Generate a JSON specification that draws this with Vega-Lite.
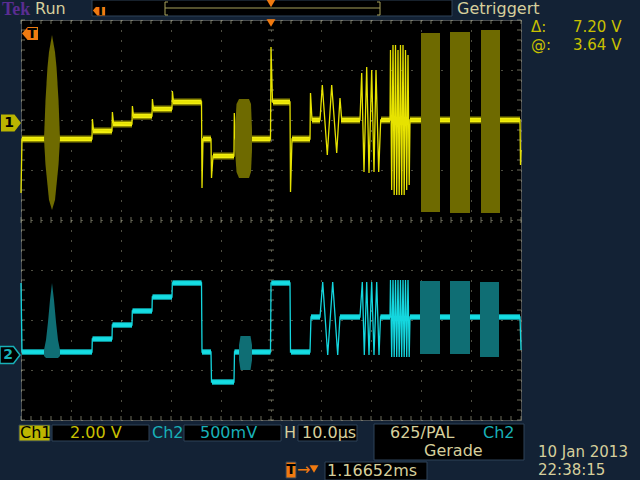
{
  "$schema": "https://vega.github.io/schema/vega-lite/v6.json",
  "width": 500,
  "height": 400,
  "autosize": "none",
  "padding": {"left": 21, "top": 20, "right": 119, "bottom": 60},
  "background": "#132235",
  "config": {
    "view": {"stroke": "#8f8f8a", "strokeDash": [1, 1], "fill": "#000000"},
    "axis": {"labels": false, "ticks": false, "domain": false, "titleOpacity": 0, "grid": true, "gridColor": "#9a9a82", "gridDash": [1, 9], "gridOpacity": 1, "gridWidth": 1},
    "axisX": {"tickCount": 10},
    "axisY": {"tickCount": 8}
  },
  "resolve": {"scale": {"color": "independent"}},
  "datasets": {
    "boxes": [
      {"t": 14.2, "t2": 86.2, "v": 4.4, "v2": 4.08, "k": "panel"},
      {"t": -0.4, "t2": 5.8, "v": -4.1, "v2": -4.42, "k": "ch1"},
      {"t": 6.2, "t2": 25.6, "v": -4.1, "v2": -4.42, "k": "panel"},
      {"t": 32.6, "t2": 52.0, "v": -4.1, "v2": -4.42, "k": "panel"},
      {"t": 55.4, "t2": 67.2, "v": -4.1, "v2": -4.42, "k": "panel"},
      {"t": 70.6, "t2": 100.6, "v": -4.08, "v2": -4.8, "k": "panel"},
      {"t": 60.8, "t2": 81.2, "v": -4.84, "v2": -5.2, "k": "panel"},
      {"t": 53.0, "t2": 55.0, "v": -4.84, "v2": -5.16, "k": "icon"}
    ],
    "bracket": [
      {"t": 28.8, "t2": 71.8, "v": 4.24, "v2": 4.24},
      {"t": 28.8, "t2": 28.8, "v": 4.36, "v2": 4.1},
      {"t": 71.8, "t2": 71.8, "v": 4.36, "v2": 4.1},
      {"t": 28.8, "t2": 29.4, "v": 4.36, "v2": 4.36},
      {"t": 28.8, "t2": 29.4, "v": 4.1, "v2": 4.1},
      {"t": 71.2, "t2": 71.8, "v": 4.36, "v2": 4.36},
      {"t": 71.2, "t2": 71.8, "v": 4.1, "v2": 4.1}
    ],
    "xt": [
      {"t": 0}, {"t": 2}, {"t": 4}, {"t": 6}, {"t": 8}, {"t": 10}, {"t": 12}, {"t": 14}, {"t": 16}, {"t": 18},
      {"t": 20}, {"t": 22}, {"t": 24}, {"t": 26}, {"t": 28}, {"t": 30}, {"t": 32}, {"t": 34}, {"t": 36}, {"t": 38},
      {"t": 40}, {"t": 42}, {"t": 44}, {"t": 46}, {"t": 48}, {"t": 50}, {"t": 52}, {"t": 54}, {"t": 56}, {"t": 58},
      {"t": 60}, {"t": 62}, {"t": 64}, {"t": 66}, {"t": 68}, {"t": 70}, {"t": 72}, {"t": 74}, {"t": 76}, {"t": 78},
      {"t": 80}, {"t": 82}, {"t": 84}, {"t": 86}, {"t": 88}, {"t": 90}, {"t": 92}, {"t": 94}, {"t": 96}, {"t": 98}, {"t": 100}
    ],
    "yt": [
      {"v": -4}, {"v": -3.8}, {"v": -3.6}, {"v": -3.4}, {"v": -3.2}, {"v": -3}, {"v": -2.8}, {"v": -2.6}, {"v": -2.4}, {"v": -2.2},
      {"v": -2}, {"v": -1.8}, {"v": -1.6}, {"v": -1.4}, {"v": -1.2}, {"v": -1}, {"v": -0.8}, {"v": -0.6}, {"v": -0.4}, {"v": -0.2},
      {"v": 0}, {"v": 0.2}, {"v": 0.4}, {"v": 0.6}, {"v": 0.8}, {"v": 1}, {"v": 1.2}, {"v": 1.4}, {"v": 1.6}, {"v": 1.8},
      {"v": 2}, {"v": 2.2}, {"v": 2.4}, {"v": 2.6}, {"v": 2.8}, {"v": 3}, {"v": 3.2}, {"v": 3.4}, {"v": 3.6}, {"v": 3.8}, {"v": 4}
    ],
    "ch1burst": [
      {"b": "a", "t": 4.6, "top": 1.62, "bot": 1.62},
      {"b": "a", "t": 4.9, "top": 2.4, "bot": 1.1},
      {"b": "a", "t": 5.3, "top": 3.06, "bot": 0.7},
      {"b": "a", "t": 5.6, "top": 3.36, "bot": 0.4},
      {"b": "a", "t": 6.2, "top": 3.7, "bot": 0.2},
      {"b": "a", "t": 6.8, "top": 3.36, "bot": 0.4},
      {"b": "a", "t": 7.1, "top": 3.06, "bot": 0.7},
      {"b": "a", "t": 7.5, "top": 2.4, "bot": 1.1},
      {"b": "a", "t": 7.8, "top": 1.62, "bot": 1.62},
      {"b": "b", "t": 42.8, "top": 1.8, "bot": 1.4},
      {"b": "b", "t": 43.1, "top": 2.32, "bot": 0.96},
      {"b": "b", "t": 43.6, "top": 2.42, "bot": 0.84},
      {"b": "b", "t": 45.6, "top": 2.42, "bot": 0.84},
      {"b": "b", "t": 46.0, "top": 2.32, "bot": 0.96},
      {"b": "b", "t": 46.2, "top": 1.8, "bot": 1.4}
    ],
    "ch2burst": [
      {"b": "a", "t": 4.6, "top": -2.6, "bot": -2.72},
      {"b": "a", "t": 5.0, "top": -2.4, "bot": -2.76},
      {"b": "a", "t": 5.4, "top": -2.04, "bot": -2.76},
      {"b": "a", "t": 5.8, "top": -1.6, "bot": -2.76},
      {"b": "a", "t": 6.2, "top": -1.26, "bot": -2.76},
      {"b": "a", "t": 6.6, "top": -1.6, "bot": -2.76},
      {"b": "a", "t": 7.0, "top": -2.04, "bot": -2.76},
      {"b": "a", "t": 7.4, "top": -2.4, "bot": -2.76},
      {"b": "a", "t": 7.8, "top": -2.6, "bot": -2.72},
      {"b": "b", "t": 43.6, "top": -2.5, "bot": -2.8},
      {"b": "b", "t": 43.9, "top": -2.32, "bot": -3.0},
      {"b": "b", "t": 45.9, "top": -2.32, "bot": -3.0},
      {"b": "b", "t": 46.2, "top": -2.5, "bot": -2.8}
    ],
    "ch1block": [
      {"t": 80.0, "t2": 83.8, "v": 3.74, "v2": 0.16},
      {"t": 85.8, "t2": 89.8, "v": 3.76, "v2": 0.14},
      {"t": 92.0, "t2": 95.8, "v": 3.8, "v2": 0.14}
    ],
    "ch2block": [
      {"t": 79.8, "t2": 83.8, "v": -1.22, "v2": -2.68},
      {"t": 85.8, "t2": 89.8, "v": -1.22, "v2": -2.68},
      {"t": 91.8, "t2": 95.6, "v": -1.24, "v2": -2.74}
    ],
    "ch1band": [
      {"t": 0.2, "t2": 14.2, "v": 1.62},
      {"t": 14.4, "t2": 18.2, "v": 1.78},
      {"t": 18.4, "t2": 22.2, "v": 1.92},
      {"t": 22.4, "t2": 26.2, "v": 2.08},
      {"t": 26.4, "t2": 30.2, "v": 2.22},
      {"t": 30.4, "t2": 36.1, "v": 2.36},
      {"t": 36.4, "t2": 38.0, "v": 1.62},
      {"t": 38.4, "t2": 42.6, "v": 1.28},
      {"t": 42.8, "t2": 49.9, "v": 1.62},
      {"t": 50.4, "t2": 53.8, "v": 2.36},
      {"t": 54.2, "t2": 57.8, "v": 1.62},
      {"t": 58.2, "t2": 59.8, "v": 2.0},
      {"t": 64.0, "t2": 67.8, "v": 2.0},
      {"t": 72.0, "t2": 73.8, "v": 2.0},
      {"t": 77.8, "t2": 99.8, "v": 2.0}
    ],
    "ch2band": [
      {"t": 0.2, "t2": 14.2, "v": -2.64},
      {"t": 14.3, "t2": 18.2, "v": -2.38},
      {"t": 18.3, "t2": 22.2, "v": -2.1},
      {"t": 22.3, "t2": 26.2, "v": -1.82},
      {"t": 26.3, "t2": 30.2, "v": -1.54},
      {"t": 30.3, "t2": 36.1, "v": -1.26},
      {"t": 36.2, "t2": 38.0, "v": -2.64},
      {"t": 38.2, "t2": 42.6, "v": -3.24},
      {"t": 42.7, "t2": 49.9, "v": -2.64},
      {"t": 50.1, "t2": 53.8, "v": -1.26},
      {"t": 54.0, "t2": 57.8, "v": -2.64},
      {"t": 58.0, "t2": 59.8, "v": -1.94},
      {"t": 63.8, "t2": 67.8, "v": -1.94},
      {"t": 71.9, "t2": 73.8, "v": -1.94},
      {"t": 77.8, "t2": 99.8, "v": -1.94}
    ],
    "ch1line": [
      {"t": 0, "v": 0.54}, {"t": 0.2, "v": 1.62}, {"t": 14.2, "v": 1.62}, {"t": 14.28, "v": 2.02}, {"t": 14.5, "v": 1.8},
      {"t": 18.2, "v": 1.78}, {"t": 18.28, "v": 2.16}, {"t": 18.5, "v": 1.94}, {"t": 22.2, "v": 1.92}, {"t": 22.28, "v": 2.28},
      {"t": 22.5, "v": 2.08}, {"t": 26.2, "v": 2.08}, {"t": 26.28, "v": 2.42}, {"t": 26.5, "v": 2.22}, {"t": 30.2, "v": 2.22},
      {"t": 30.28, "v": 2.58}, {"t": 30.5, "v": 2.36}, {"t": 36.1, "v": 2.36}, {"t": 36.2, "v": 0.64}, {"t": 36.4, "v": 1.62},
      {"t": 38.0, "v": 1.62}, {"t": 38.1, "v": 0.84}, {"t": 38.4, "v": 1.28}, {"t": 42.6, "v": 1.28}, {"t": 42.66, "v": 2.14},
      {"t": 42.9, "v": 1.62}, {"t": 49.9, "v": 1.62}, {"t": 50.0, "v": 3.46}, {"t": 50.3, "v": 2.36}, {"t": 53.8, "v": 2.36},
      {"t": 53.9, "v": 0.56}, {"t": 54.2, "v": 1.62}, {"t": 57.8, "v": 1.62}, {"t": 57.9, "v": 2.54}, {"t": 58.2, "v": 2.0},
      {"t": 59.8, "v": 2.0}, {"t": 60.26, "v": 2.7}, {"t": 61.26, "v": 1.3}, {"t": 62.14, "v": 2.7}, {"t": 63.14, "v": 1.34},
      {"t": 63.8, "v": 2.44}, {"t": 64.14, "v": 2.0}, {"t": 67.8, "v": 2.0}, {"t": 68.14, "v": 2.94}, {"t": 68.6, "v": 0.96},
      {"t": 69.14, "v": 3.06}, {"t": 69.6, "v": 0.94}, {"t": 70.14, "v": 3.0}, {"t": 70.6, "v": 0.96}, {"t": 71.0, "v": 3.0},
      {"t": 71.54, "v": 0.96}, {"t": 71.94, "v": 2.0}, {"t": 73.8, "v": 2.0}, {"t": 73.9, "v": 3.4}, {"t": 74.14, "v": 0.6},
      {"t": 74.4, "v": 3.5}, {"t": 74.64, "v": 0.5}, {"t": 74.9, "v": 3.5}, {"t": 75.14, "v": 0.5}, {"t": 75.4, "v": 3.4},
      {"t": 75.64, "v": 0.5}, {"t": 75.9, "v": 3.5}, {"t": 76.14, "v": 0.5}, {"t": 76.4, "v": 3.5}, {"t": 76.64, "v": 0.5},
      {"t": 76.9, "v": 3.4}, {"t": 77.14, "v": 0.6}, {"t": 77.4, "v": 3.3}, {"t": 77.64, "v": 0.7}, {"t": 77.8, "v": 2.0},
      {"t": 99.8, "v": 2.0}, {"t": 99.9, "v": 1.1}, {"t": 100, "v": 1.4}
    ],
    "ch2line": [
      {"t": 0, "v": -1.26}, {"t": 0.2, "v": -2.64}, {"t": 14.2, "v": -2.64}, {"t": 14.26, "v": -2.38}, {"t": 18.2, "v": -2.38},
      {"t": 18.26, "v": -2.1}, {"t": 22.2, "v": -2.1}, {"t": 22.26, "v": -1.82}, {"t": 26.2, "v": -1.82}, {"t": 26.26, "v": -1.54},
      {"t": 30.2, "v": -1.54}, {"t": 30.26, "v": -1.26}, {"t": 36.1, "v": -1.26}, {"t": 36.2, "v": -2.64}, {"t": 38.0, "v": -2.64},
      {"t": 38.1, "v": -3.24}, {"t": 42.6, "v": -3.24}, {"t": 42.7, "v": -2.64}, {"t": 49.9, "v": -2.64}, {"t": 50.0, "v": -1.26},
      {"t": 53.8, "v": -1.26}, {"t": 53.9, "v": -2.64}, {"t": 57.8, "v": -2.64}, {"t": 58.0, "v": -1.94}, {"t": 59.8, "v": -1.94},
      {"t": 60.34, "v": -1.24}, {"t": 61.34, "v": -2.7}, {"t": 62.34, "v": -1.24}, {"t": 63.34, "v": -2.7}, {"t": 63.8, "v": -1.94},
      {"t": 67.8, "v": -1.94}, {"t": 68.26, "v": -1.24}, {"t": 68.66, "v": -2.7}, {"t": 69.14, "v": -1.24}, {"t": 69.6, "v": -2.7},
      {"t": 70.14, "v": -1.24}, {"t": 70.6, "v": -2.7}, {"t": 71.14, "v": -1.24}, {"t": 71.6, "v": -2.7}, {"t": 71.9, "v": -1.94},
      {"t": 73.8, "v": -1.94}, {"t": 73.9, "v": -1.2}, {"t": 74.14, "v": -2.74}, {"t": 74.4, "v": -1.2}, {"t": 74.64, "v": -2.74},
      {"t": 74.9, "v": -1.2}, {"t": 75.14, "v": -2.74}, {"t": 75.4, "v": -1.2}, {"t": 75.64, "v": -2.74}, {"t": 75.9, "v": -1.2},
      {"t": 76.14, "v": -2.74}, {"t": 76.4, "v": -1.2}, {"t": 76.64, "v": -2.74}, {"t": 76.9, "v": -1.2}, {"t": 77.14, "v": -2.74},
      {"t": 77.4, "v": -1.2}, {"t": 77.64, "v": -2.74}, {"t": 77.8, "v": -1.94}, {"t": 99.8, "v": -1.94}, {"t": 100, "v": -2.6}
    ],
    "markers": [
      {"t": -2.0, "v": 1.94, "m": "ch1"},
      {"t": -2.2, "v": -2.7, "m": "ch2"},
      {"t": 1.8, "v": 3.73, "m": "trig"},
      {"t": 15.6, "v": 4.19, "m": "trigsmall"},
      {"t": 50, "v": 3.94, "m": "tri"},
      {"t": 50, "v": 4.33, "m": "tri"},
      {"t": 58.6, "v": -4.98, "m": "tri"}
    ],
    "labels": [
      {"t": 2.8, "v": 4.22, "s": "Run", "r": "ui"},
      {"t": 87.2, "v": 4.22, "s": "Getriggert", "r": "ui"},
      {"t": -0.2, "v": -4.26, "s": "Ch1", "r": "inv"},
      {"t": 9.8, "v": -4.26, "s": "2.00 V", "r": "ch1"},
      {"t": 26.2, "v": -4.26, "s": "Ch2", "r": "ch2"},
      {"t": 35.8, "v": -4.26, "s": "500mV", "r": "ch2"},
      {"t": 52.6, "v": -4.26, "s": "H", "r": "ui"},
      {"t": 56.2, "v": -4.26, "s": "10.0µs", "r": "ui"},
      {"t": 73.8, "v": -4.26, "s": "625/PAL", "r": "ui"},
      {"t": 92.4, "v": -4.26, "s": "Ch2", "r": "ch2"},
      {"t": 80.6, "v": -4.62, "s": "Gerade", "r": "ui"},
      {"t": 61.2, "v": -5.02, "s": "1.16652ms", "r": "ui"},
      {"t": 55.2, "v": -5.0, "s": "→", "r": "trig"}
    ],
    "small": [
      {"t": 102, "v": 3.86, "s": "Δ:", "r": "ch1"},
      {"t": 110.4, "v": 3.86, "s": "7.20 V", "r": "ch1"},
      {"t": 102, "v": 3.5, "s": "@:", "r": "ch1"},
      {"t": 110.4, "v": 3.5, "s": "3.64 V", "r": "ch1"},
      {"t": 103.4, "v": -4.64, "s": "10 Jan  2013", "r": "ui"},
      {"t": 103.4, "v": -5.0, "s": "22:38:15", "r": "ui"}
    ],
    "glyphs": [
      {"t": -2.4, "v": 1.94, "s": "1", "r": "inv"},
      {"t": -2.6, "v": -2.7, "s": "2", "r": "ch2"},
      {"t": 2.2, "v": 3.72, "s": "T", "r": "inv"},
      {"t": 15.9, "v": 4.19, "s": "T", "r": "inv"},
      {"t": 54.0, "v": -5.0, "s": "T", "r": "inv"}
    ],
    "brand": [
      {"t": -3.8, "v": 4.2, "s": "Tek"}
    ]
  },
  "layer": [
    {
      "data": {"name": "boxes"},
      "mark": {"type": "rect", "stroke": "#2f4258", "strokeWidth": 1},
      "encoding": {
        "x": {"field": "t", "type": "quantitative", "scale": {"domain": [0, 100], "nice": false, "zero": false}},
        "x2": {"field": "t2"},
        "y": {"field": "v", "type": "quantitative", "scale": {"domain": [-4, 4], "nice": false, "zero": false}},
        "y2": {"field": "v2"},
        "color": {"field": "k", "type": "nominal", "scale": {"domain": ["panel", "ch1", "icon"], "range": ["#000000", "#bdb600", "#f07a10"]}, "legend": null}
      }
    },
    {
      "mark": {"type": "rule", "color": "#9a9a82", "strokeDash": [1, 1]},
      "encoding": {"x": {"datum": 50}}
    },
    {
      "mark": {"type": "rule", "color": "#9a9a82", "strokeDash": [1, 1]},
      "encoding": {"y": {"datum": 0}}
    },
    {
      "data": {"name": "xt"},
      "mark": {"type": "tick", "orient": "vertical", "size": 6, "thickness": 1, "color": "#9a9a82"},
      "encoding": {"x": {"field": "t", "type": "quantitative"}, "y": {"datum": 0}}
    },
    {
      "data": {"name": "xt"},
      "mark": {"type": "tick", "orient": "vertical", "size": 4, "thickness": 1, "color": "#9a9a82"},
      "encoding": {"x": {"field": "t", "type": "quantitative"}, "y": {"datum": -3.96}}
    },
    {
      "data": {"name": "xt"},
      "mark": {"type": "tick", "orient": "vertical", "size": 4, "thickness": 1, "color": "#9a9a82"},
      "encoding": {"x": {"field": "t", "type": "quantitative"}, "y": {"datum": 3.96}}
    },
    {
      "data": {"name": "yt"},
      "mark": {"type": "tick", "orient": "horizontal", "size": 6, "thickness": 1, "color": "#9a9a82"},
      "encoding": {"y": {"field": "v", "type": "quantitative"}, "x": {"datum": 50}}
    },
    {
      "data": {"name": "yt"},
      "mark": {"type": "tick", "orient": "horizontal", "size": 4, "thickness": 1, "color": "#9a9a82"},
      "encoding": {"y": {"field": "v", "type": "quantitative"}, "x": {"datum": 0.4}}
    },
    {
      "data": {"name": "yt"},
      "mark": {"type": "tick", "orient": "horizontal", "size": 4, "thickness": 1, "color": "#9a9a82"},
      "encoding": {"y": {"field": "v", "type": "quantitative"}, "x": {"datum": 99.6}}
    },
    {
      "data": {"name": "bracket"},
      "mark": {"type": "rule", "color": "#a8a25a", "strokeWidth": 1},
      "encoding": {"x": {"field": "t", "type": "quantitative"}, "x2": {"field": "t2"}, "y": {"field": "v", "type": "quantitative"}, "y2": {"field": "v2"}}
    },
    {
      "mark": {"type": "rule", "color": "#c8c000", "strokeWidth": 1},
      "encoding": {"x": {"datum": 3.4}, "x2": {"datum": 100}, "y": {"datum": 3.74}}
    },
    {
      "mark": {"type": "rule", "color": "#c8c000", "strokeWidth": 1.5, "strokeDash": [5, 3]},
      "encoding": {"x": {"datum": 0}, "x2": {"datum": 100}, "y": {"datum": 0.16}}
    },
    {
      "data": {"name": "ch1band"},
      "mark": {"type": "rule", "color": "#8c8800", "strokeWidth": 7},
      "encoding": {"x": {"field": "t", "type": "quantitative"}, "x2": {"field": "t2"}, "y": {"field": "v", "type": "quantitative"}}
    },
    {
      "data": {"name": "ch1band"},
      "mark": {"type": "rule", "color": "#f2ee10", "strokeWidth": 4},
      "encoding": {"x": {"field": "t", "type": "quantitative"}, "x2": {"field": "t2"}, "y": {"field": "v", "type": "quantitative"}}
    },
    {
      "data": {"name": "ch1line"},
      "mark": {"type": "line", "color": "#e6e200", "strokeWidth": 1.3},
      "encoding": {"x": {"field": "t", "type": "quantitative"}, "y": {"field": "v", "type": "quantitative"}}
    },
    {
      "data": {"name": "ch1burst"},
      "mark": {"type": "area", "color": "#6e6a00", "opacity": 1},
      "encoding": {"x": {"field": "t", "type": "quantitative"}, "y": {"field": "top", "type": "quantitative"}, "y2": {"field": "bot"}, "detail": {"field": "b", "type": "nominal"}}
    },
    {
      "data": {"name": "ch1block"},
      "mark": {"type": "rect", "color": "#6e6a00"},
      "encoding": {"x": {"field": "t", "type": "quantitative"}, "x2": {"field": "t2"}, "y": {"field": "v", "type": "quantitative"}, "y2": {"field": "v2"}}
    },
    {
      "data": {"name": "ch2band"},
      "mark": {"type": "rule", "color": "#0a8c92", "strokeWidth": 6},
      "encoding": {"x": {"field": "t", "type": "quantitative"}, "x2": {"field": "t2"}, "y": {"field": "v", "type": "quantitative"}}
    },
    {
      "data": {"name": "ch2band"},
      "mark": {"type": "rule", "color": "#18f0f4", "strokeWidth": 3.5},
      "encoding": {"x": {"field": "t", "type": "quantitative"}, "x2": {"field": "t2"}, "y": {"field": "v", "type": "quantitative"}}
    },
    {
      "data": {"name": "ch2line"},
      "mark": {"type": "line", "color": "#14d6de", "strokeWidth": 1.3},
      "encoding": {"x": {"field": "t", "type": "quantitative"}, "y": {"field": "v", "type": "quantitative"}}
    },
    {
      "data": {"name": "ch2burst"},
      "mark": {"type": "area", "color": "#0f6e74", "opacity": 1},
      "encoding": {"x": {"field": "t", "type": "quantitative"}, "y": {"field": "top", "type": "quantitative"}, "y2": {"field": "bot"}, "detail": {"field": "b", "type": "nominal"}}
    },
    {
      "data": {"name": "ch2block"},
      "mark": {"type": "rect", "color": "#0f6e74"},
      "encoding": {"x": {"field": "t", "type": "quantitative"}, "x2": {"field": "t2"}, "y": {"field": "v", "type": "quantitative"}, "y2": {"field": "v2"}}
    },
    {
      "data": {"name": "markers"},
      "transform": [{"filter": "datum.m == 'ch1'"}],
      "mark": {"type": "point", "shape": "M-1,-0.85L0.35,-0.85L1,0L0.35,0.85L-1,0.85Z", "size": 400, "filled": true, "color": "#bab400", "opacity": 1},
      "encoding": {"x": {"field": "t", "type": "quantitative"}, "y": {"field": "v", "type": "quantitative"}}
    },
    {
      "data": {"name": "markers"},
      "transform": [{"filter": "datum.m == 'ch2'"}],
      "mark": {"type": "point", "shape": "M-1,-0.85L0.35,-0.85L1,0L0.35,0.85L-1,0.85Z", "size": 400, "filled": true, "fill": "#000000", "stroke": "#18b0b8", "strokeWidth": 1.5, "opacity": 1},
      "encoding": {"x": {"field": "t", "type": "quantitative"}, "y": {"field": "v", "type": "quantitative"}}
    },
    {
      "data": {"name": "markers"},
      "transform": [{"filter": "datum.m == 'trig'"}],
      "mark": {"type": "point", "shape": "M1,-0.8L-0.3,-0.8L-1,0L-0.3,0.8L1,0.8Z", "size": 256, "filled": true, "color": "#f07a10", "opacity": 1},
      "encoding": {"x": {"field": "t", "type": "quantitative"}, "y": {"field": "v", "type": "quantitative"}}
    },
    {
      "data": {"name": "markers"},
      "transform": [{"filter": "datum.m == 'trigsmall'"}],
      "mark": {"type": "point", "shape": "M1,-0.8L-0.3,-0.8L-1,0L-0.3,0.8L1,0.8Z", "size": 150, "filled": true, "color": "#f07a10", "opacity": 1},
      "encoding": {"x": {"field": "t", "type": "quantitative"}, "y": {"field": "v", "type": "quantitative"}}
    },
    {
      "data": {"name": "markers"},
      "transform": [{"filter": "datum.m == 'tri'"}],
      "mark": {"type": "point", "shape": "triangle-down", "size": 80, "filled": true, "color": "#f07a10", "opacity": 1},
      "encoding": {"x": {"field": "t", "type": "quantitative"}, "y": {"field": "v", "type": "quantitative"}}
    },
    {
      "data": {"name": "labels"},
      "mark": {"type": "text", "align": "left", "baseline": "middle", "font": "DejaVu Sans", "fontSize": 16},
      "encoding": {
        "x": {"field": "t", "type": "quantitative"},
        "y": {"field": "v", "type": "quantitative"},
        "text": {"field": "s"},
        "color": {"field": "r", "type": "nominal", "scale": {"domain": ["ui", "ch1", "ch2", "inv", "trig"], "range": ["#d6cf9c", "#c8c000", "#18b0b8", "#000000", "#f07a10"]}, "legend": null}
      }
    },
    {
      "data": {"name": "small"},
      "mark": {"type": "text", "align": "left", "baseline": "middle", "font": "DejaVu Sans", "fontSize": 15},
      "encoding": {
        "x": {"field": "t", "type": "quantitative"},
        "y": {"field": "v", "type": "quantitative"},
        "text": {"field": "s"},
        "color": {"field": "r", "type": "nominal", "scale": {"domain": ["ui", "ch1"], "range": ["#d6cf9c", "#c8c000"]}, "legend": null}
      }
    },
    {
      "data": {"name": "glyphs"},
      "mark": {"type": "text", "align": "center", "baseline": "middle", "font": "DejaVu Sans", "fontSize": 14, "fontWeight": "bold"},
      "encoding": {
        "x": {"field": "t", "type": "quantitative"},
        "y": {"field": "v", "type": "quantitative"},
        "text": {"field": "s"},
        "color": {"field": "r", "type": "nominal", "scale": {"domain": ["inv", "ch2"], "range": ["#000000", "#18b0b8"]}, "legend": null}
      }
    },
    {
      "data": {"name": "brand"},
      "mark": {"type": "text", "align": "left", "baseline": "middle", "font": "Liberation Serif", "fontSize": 18, "fontWeight": "bold", "color": "#5a2d91"},
      "encoding": {"x": {"field": "t", "type": "quantitative"}, "y": {"field": "v", "type": "quantitative"}, "text": {"field": "s"}}
    }
  ]
}
